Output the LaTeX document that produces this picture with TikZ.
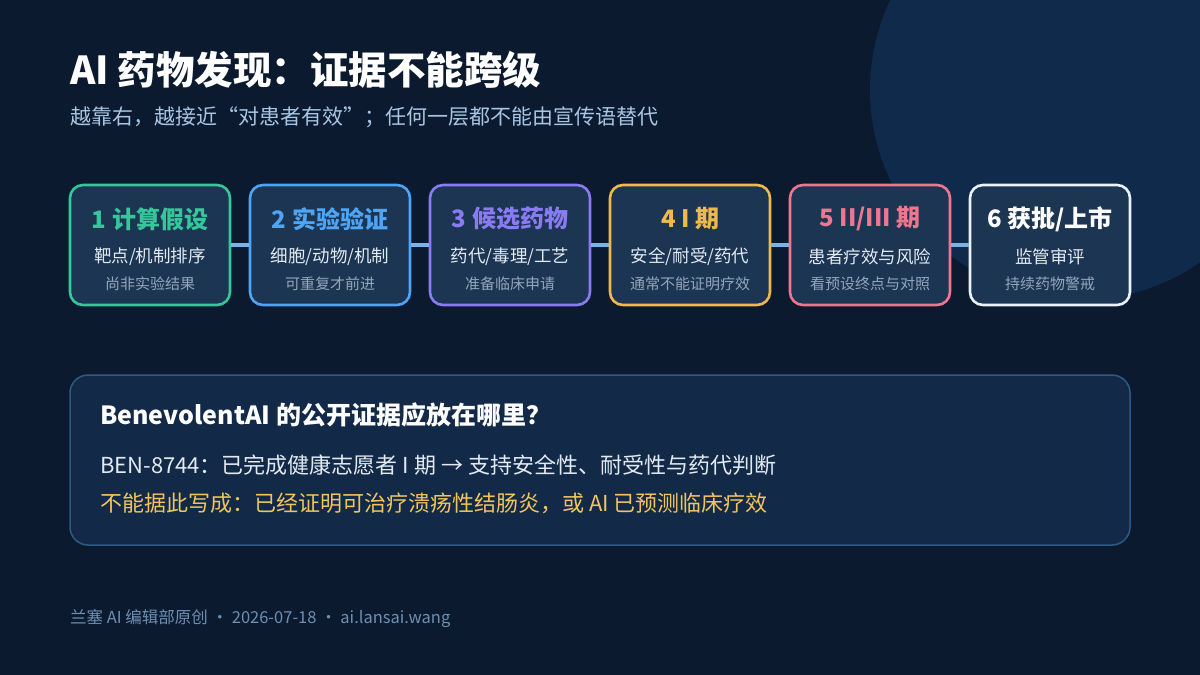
\documentclass[tikz,border=0pt]{standalone}
\usepackage{fontspec}
\setmainfont{Noto Sans CJK SC}
\definecolor{bg}{HTML}{0B1A2E}
\definecolor{blob}{HTML}{0F2A4A}
\definecolor{boxfill}{HTML}{1B3553}
\definecolor{panelfill}{HTML}{122A48}
\definecolor{panelline}{HTML}{2D5A84}
\definecolor{cgreen}{HTML}{35C79B}
\definecolor{cblue}{HTML}{4FA4F4}
\definecolor{cpurple}{HTML}{8A7BF4}
\definecolor{camber}{HTML}{F1B94C}
\definecolor{cpink}{HTML}{F0758F}
\definecolor{cwhite}{HTML}{E9F1F9}
\definecolor{linkc}{HTML}{7DB3E4}
\definecolor{subc}{HTML}{A8C6E4}
\definecolor{maintxt}{HTML}{E3EAF2}
\definecolor{dimtxt}{HTML}{94A6BC}
\definecolor{warnc}{HTML}{F2C55C}
\definecolor{footc}{HTML}{6E8FB2}
\tikzset{
  stagebox/.style={draw=#1, line width=2.6pt, fill=boxfill, rounded corners=13pt,
    minimum width=160pt, minimum height=120pt, inner sep=0pt},
  stagetitle/.style={font=\bfseries\fontsize{24}{28}\selectfont, text=#1, anchor=center},
  stageline/.style={font=\fontsize{17.5}{20}\selectfont, text=maintxt, anchor=center},
  stagenote/.style={font=\fontsize{15}{18}\selectfont, text=dimtxt, anchor=center},
  link/.style={draw=linkc, line width=4pt},
  bodytxt/.style={anchor=west, inner sep=0pt, font=\fontsize{22}{26}\selectfont}
}
\begin{document}
\begin{tikzpicture}[x=1pt,y=-1pt]
\useasboundingbox (0,0) rectangle (1200,675);
\fill[bg] (0,0) rectangle (1200,675);
\begin{scope}
\clip (0,0) rectangle (1200,675);
\fill[blob] (1080,90) circle (210);
\end{scope}

\node[anchor=west, inner sep=0pt, text=white, font=\bfseries\fontsize{38.5}{44}\selectfont] (title) at (70,70) {AI 药物发现：证据不能跨级};
\node[anchor=west, inner sep=0pt, text=subc, font=\fontsize{21}{25}\selectfont] (subtitle) at (70,117) {越靠右，越接近“对患者有效”；任何一层都不能由宣传语替代};

% stage boxes
\node[stagebox=cgreen] (b1) at (150,245) {};
\node[stagebox=cblue] (b2) at (330,245) {};
\node[stagebox=cpurple] (b3) at (510,245) {};
\node[stagebox=camber] (b4) at (690,245) {};
\node[stagebox=cpink] (b5) at (870,245) {};
\node[stagebox=cwhite] (b6) at (1050,245) {};

\draw[link] (b1.east) -- (b2.west);
\draw[link] (b2.east) -- (b3.west);
\draw[link] (b3.east) -- (b4.west);
\draw[link] (b4.east) -- (b5.west);
\draw[link] (b5.east) -- (b6.west);

\node[stagetitle=cgreen] (t1) at (150,219) {1 计算假设};
\node[stageline] (l1) at (150,257) {靶点/机制排序};
\node[stagenote] (n1) at (150,284) {尚非实验结果};

\node[stagetitle=cblue] (t2) at (330,219) {2 实验验证};
\node[stageline] (l2) at (330,257) {细胞/动物/机制};
\node[stagenote] (n2) at (330,284) {可重复才前进};

\node[stagetitle=cpurple] (t3) at (510,219) {3 候选药物};
\node[stageline] (l3) at (510,257) {药代/毒理/工艺};
\node[stagenote] (n3) at (510,284) {准备临床申请};

\node[stagetitle=camber] (t4) at (690,219) {4 I 期};
\node[stageline] (l4) at (690,257) {安全/耐受/药代};
\node[stagenote] (n4) at (690,284) {通常不能证明疗效};

\node[stagetitle=cpink] (t5) at (870,219) {5 II/III 期};
\node[stageline] (l5) at (870,257) {患者疗效与风险};
\node[stagenote] (n5) at (870,284) {看预设终点与对照};

\node[stagetitle=white] (t6) at (1050,219) {6 获批/上市};
\node[stageline] (l6) at (1050,257) {监管审评};
\node[stagenote] (n6) at (1050,284) {持续药物警戒};

% evidence panel
\node[draw=panelline, line width=1.5pt, fill=panelfill, rounded corners=18pt,
  minimum width=1060pt, minimum height=170pt, inner sep=0pt] (panel) at (600,460) {};
\node[bodytxt, text=white, font=\bfseries\fontsize{25}{29}\selectfont] (ph) at (100,415) {BenevolentAI 的公开证据应放在哪里？};
\node[bodytxt, text=maintxt] (pl1) at (100,465) {BEN-8744：已完成健康志愿者 I 期 → 支持安全性、耐受性与药代判断};
\node[bodytxt, text=warnc] (pl2) at (100,503) {不能据此写成：已经证明可治疗溃疡性结肠炎，或 AI 已预测临床疗效};

\node[anchor=west, inner sep=0pt, text=footc, font=\fontsize{16.5}{19}\selectfont] (foot) at (70,619) {兰塞 AI 编辑部原创 · 2026-07-18 · ai.lansai.wang};
\end{tikzpicture}
\end{document}
